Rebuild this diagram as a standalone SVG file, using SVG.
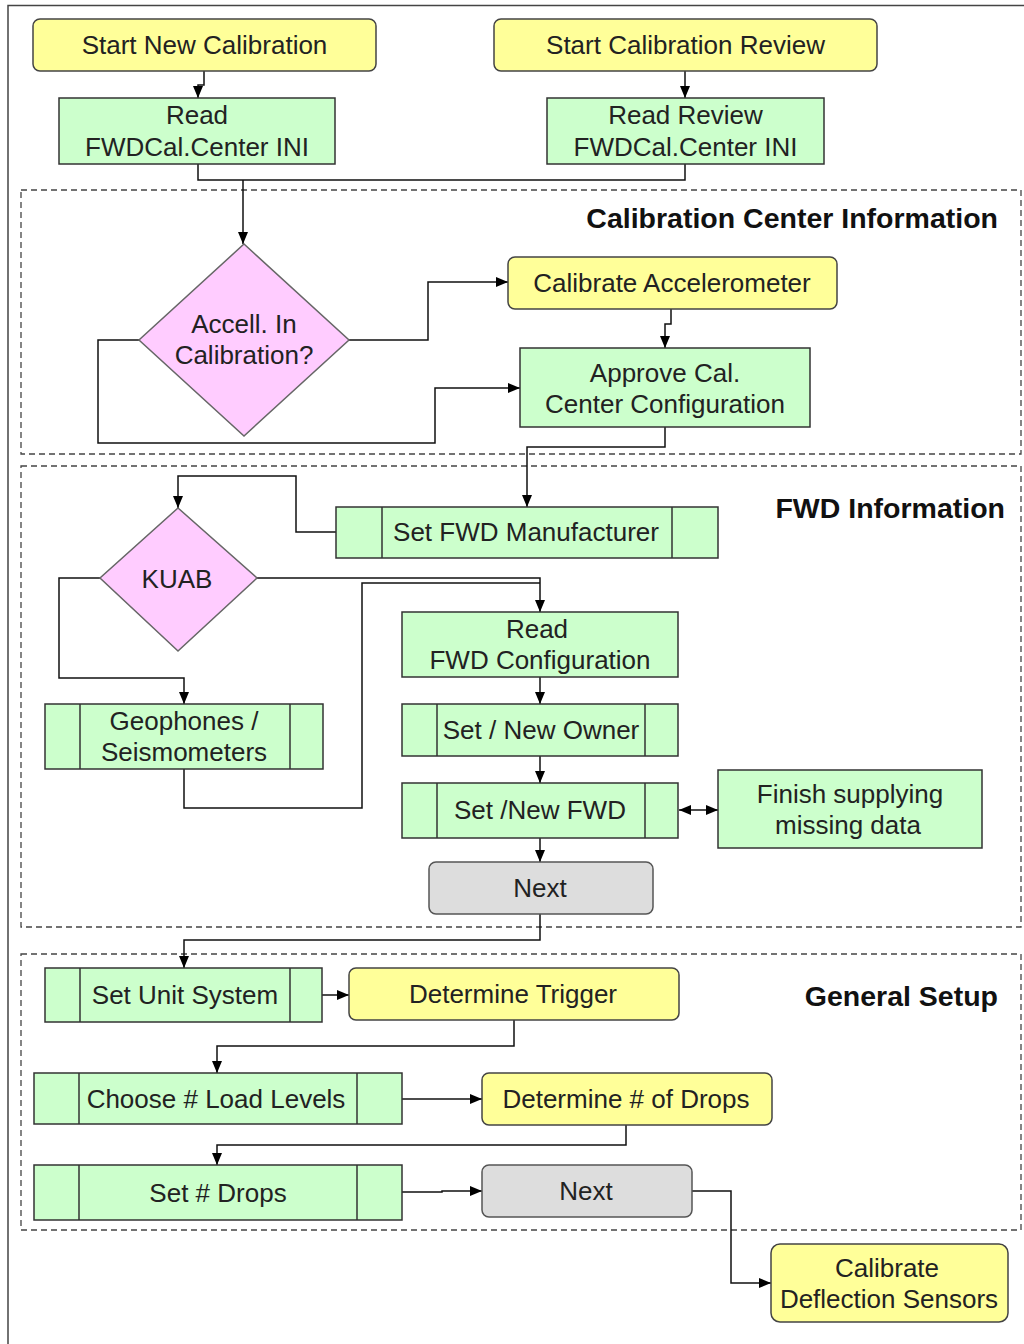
<svg xmlns="http://www.w3.org/2000/svg" width="1024" height="1344" viewBox="0 0 1024 1344">
<defs>
<marker id="ah" viewBox="0 0 12 10" refX="12" refY="5" markerWidth="12" markerHeight="10" markerUnits="userSpaceOnUse" orient="auto-start-reverse">
<path d="M0,0 L12,5 L0,10 z" fill="#000"/>
</marker>
<style>
.t{font-family:"Liberation Sans",Arial,sans-serif;font-size:26px;fill:#222;text-anchor:middle}
.h{font-family:"Liberation Sans",Arial,sans-serif;font-size:28.5px;font-weight:bold;fill:#111;text-anchor:end}
.y{fill:#ffff99;stroke:#444;stroke-width:1.5}
.g{fill:#ccffcc;stroke:#333;stroke-width:1.5}
.gr{fill:#dddddd;stroke:#555;stroke-width:1.5}
.p{fill:#ffccff;stroke:#666;stroke-width:1.5}
.sec{fill:none;stroke:#444;stroke-width:1.3;stroke-dasharray:6,4}
.c{fill:none;stroke:#111;stroke-width:1.5}
.ca{fill:none;stroke:#111;stroke-width:1.5;marker-end:url(#ah)}
.il{stroke:#333;stroke-width:1.5}
</style>
</defs>
<rect width="1024" height="1344" fill="#fff"/>
<path d="M8,1344 V5.5 H1024" fill="none" stroke="#444" stroke-width="1.5"/>

<g id="sections">
<rect class="sec" x="21" y="190" width="1000" height="264"/>
<rect class="sec" x="21" y="466" width="1000" height="461"/>
<rect class="sec" x="21" y="954" width="1000" height="276"/>
<text class="h" x="998" y="228">Calibration Center Information</text>
<text class="h" x="1005" y="518">FWD Information</text>
<text class="h" x="998" y="1006">General Setup</text>
</g>

<g id="connectors">
<path class="ca" d="M204,71 V85 H198 V98"/>
<path class="ca" d="M685,71 V98"/>
<path class="c" d="M198,164 V180 H685 V164"/>
<path class="ca" d="M243,180 V244"/>
<path class="ca" d="M349,340 H428 V282 H508"/>
<path class="ca" d="M671,309 V324 H665 V348"/>
<path class="ca" d="M139,340 H98 V443 H435 V388 H520"/>
<path class="ca" d="M665,427 V447 H527 V507"/>
<path class="ca" d="M336,532 H296 V476 H178 V508"/>
<path class="ca" d="M257,578 H540 V612"/>
<path class="c" d="M184,769 V808 H362 V583 H540"/>
<path class="ca" d="M100,578 H59 V678 H184 V704"/>
<path class="ca" d="M540,677 V704"/>
<path class="ca" d="M540,756 V783"/>
<path class="ca" d="M540,838 V862"/>
<path class="ca" d="M679,810 H718" marker-start="url(#ah)"/>
<path class="ca" d="M540,914 V940 H184 V968"/>
<path class="ca" d="M322,995 H349"/>
<path class="ca" d="M514,1020 V1046 H217 V1073"/>
<path class="ca" d="M402,1099 H482"/>
<path class="ca" d="M626,1125 V1145 H217 V1165"/>
<path class="ca" d="M402,1192 H442 V1191 H482"/>
<path class="ca" d="M692,1191 H731 V1283 H771"/>
</g>

<g id="start-new">
<rect class="y" x="33" y="19" width="343" height="52" rx="7"/>
<text class="t" x="204.5" y="54">Start New Calibration</text>
</g>
<g id="start-review">
<rect class="y" x="494" y="19" width="383" height="52" rx="7"/>
<text class="t" x="685.5" y="54">Start Calibration Review</text>
</g>
<g id="read-ini">
<rect class="g" x="59" y="98" width="276" height="66"/>
<text class="t" x="197" y="124">Read</text>
<text class="t" x="197" y="156">FWDCal.Center INI</text>
</g>
<g id="read-review-ini">
<rect class="g" x="547" y="98" width="277" height="66"/>
<text class="t" x="685.5" y="124">Read Review</text>
<text class="t" x="685.5" y="156">FWDCal.Center INI</text>
</g>
<g id="accell-decision">
<polygon class="p" points="244,244 349,340 244,436 139,340"/>
<text class="t" x="244" y="333">Accell. In</text>
<text class="t" x="244" y="364">Calibration?</text>
</g>
<g id="calibrate-accel">
<rect class="y" x="508" y="257" width="329" height="52" rx="7"/>
<text class="t" x="672" y="292">Calibrate Accelerometer</text>
</g>
<g id="approve-center">
<rect class="g" x="520" y="348" width="290" height="79"/>
<text class="t" x="665" y="382">Approve Cal.</text>
<text class="t" x="665" y="413">Center Configuration</text>
</g>
<g id="set-manufacturer">
<rect class="g" x="336" y="507" width="382" height="51"/>
<line class="il" x1="382" y1="507" x2="382" y2="558"/>
<line class="il" x1="672" y1="507" x2="672" y2="558"/>
<text class="t" x="526" y="541">Set FWD Manufacturer</text>
</g>
<g id="kuab-decision">
<polygon class="p" points="178,508 257,578 178,651 100,578"/>
<text class="t" x="177" y="588">KUAB</text>
</g>
<g id="read-fwd-config">
<rect class="g" x="402" y="612" width="276" height="65"/>
<text class="t" x="537" y="638">Read</text>
<text class="t" x="540" y="669">FWD Configuration</text>
</g>
<g id="geophones">
<rect class="g" x="45" y="704" width="278" height="65"/>
<line class="il" x1="80" y1="704" x2="80" y2="769"/>
<line class="il" x1="290" y1="704" x2="290" y2="769"/>
<text class="t" x="184" y="730">Geophones /</text>
<text class="t" x="184" y="761">Seismometers</text>
</g>
<g id="set-owner">
<rect class="g" x="402" y="704" width="276" height="52"/>
<line class="il" x1="437" y1="704" x2="437" y2="756"/>
<line class="il" x1="645" y1="704" x2="645" y2="756"/>
<text class="t" x="541" y="739">Set / New Owner</text>
</g>
<g id="set-fwd">
<rect class="g" x="402" y="783" width="276" height="55"/>
<line class="il" x1="437" y1="783" x2="437" y2="838"/>
<line class="il" x1="645" y1="783" x2="645" y2="838"/>
<text class="t" x="540" y="819">Set /New FWD</text>
</g>
<g id="finish-missing">
<rect class="g" x="718" y="770" width="264" height="78"/>
<text class="t" x="850" y="803">Finish supplying</text>
<text class="t" x="848" y="834">missing data</text>
</g>
<g id="next-1">
<rect class="gr" x="429" y="862" width="224" height="52" rx="7"/>
<text class="t" x="540" y="897">Next</text>
</g>
<g id="set-unit">
<rect class="g" x="45" y="968" width="277" height="54"/>
<line class="il" x1="80" y1="968" x2="80" y2="1022"/>
<line class="il" x1="290" y1="968" x2="290" y2="1022"/>
<text class="t" x="185" y="1004">Set Unit System</text>
</g>
<g id="determine-trigger">
<rect class="y" x="349" y="968" width="330" height="52" rx="7"/>
<text class="t" x="513" y="1003">Determine Trigger</text>
</g>
<g id="choose-load-levels">
<rect class="g" x="34" y="1073" width="368" height="51"/>
<line class="il" x1="79" y1="1073" x2="79" y2="1124"/>
<line class="il" x1="357" y1="1073" x2="357" y2="1124"/>
<text class="t" x="216" y="1108">Choose # Load Levels</text>
</g>
<g id="determine-drops">
<rect class="y" x="482" y="1073" width="290" height="52" rx="7"/>
<text class="t" x="626" y="1108">Determine # of Drops</text>
</g>
<g id="set-drops">
<rect class="g" x="34" y="1165" width="368" height="55"/>
<line class="il" x1="79" y1="1165" x2="79" y2="1220"/>
<line class="il" x1="357" y1="1165" x2="357" y2="1220"/>
<text class="t" x="218" y="1202">Set # Drops</text>
</g>
<g id="next-2">
<rect class="gr" x="482" y="1165" width="210" height="52" rx="7"/>
<text class="t" x="586" y="1200">Next</text>
</g>
<g id="calibrate-deflection">
<rect class="y" x="771" y="1244" width="237" height="78" rx="9"/>
<text class="t" x="887" y="1277">Calibrate</text>
<text class="t" x="889" y="1308">Deflection Sensors</text>
</g>
</svg>
